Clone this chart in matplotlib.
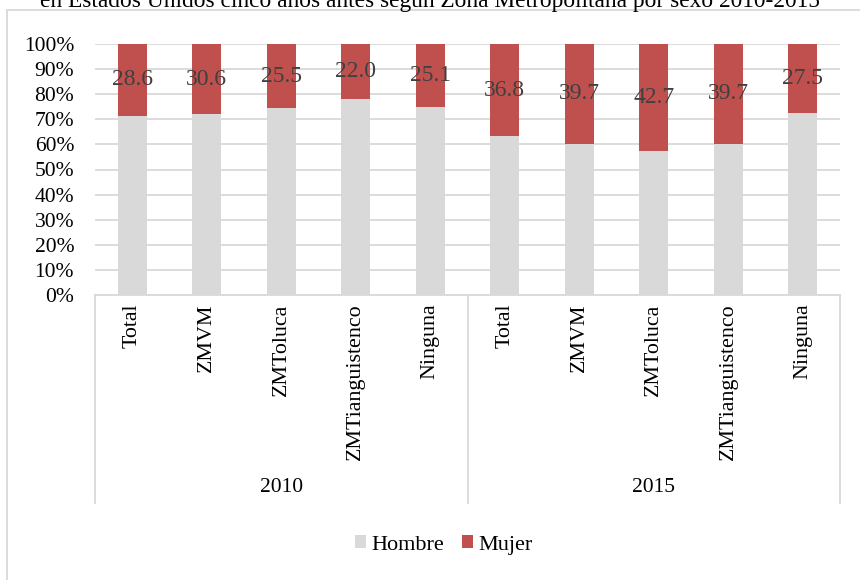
import matplotlib.pyplot as plt
import matplotlib.transforms as mtransforms
import numpy as np
from matplotlib.patches import Rectangle

plt.rcParams['font.family'] = ['Liberation Serif', 'DejaVu Serif']

# Población por sexo, porcentaje
years = ["2010", "2015"]
zonas = ["Total", "ZMVM", "ZMToluca", "ZMTianguistenco", "Ninguna"]
# alturas de las barras (Hombre)
hombre = [71.4, 72.1, 74.5, 78.0, 74.9, 63.2, 60.3, 57.3, 60.3, 72.5]
mujer = [100 - h for h in hombre]
# etiquetas de datos (Mujer)
etiquetas = [28.6, 30.6, 25.5, 22.0, 25.1, 36.8, 39.7, 42.7, 39.7, 27.5]
yticks = [0, 10, 20, 30, 40, 50, 60, 70, 80, 90, 100]

gris = '#d9d9d9'
rojo = '#c0504d'

W, H = 860, 580
fig = plt.figure(figsize=(W / 100, H / 100), dpi=100)
ax = fig.add_axes([95 / W, 1 - 295 / H, (840 - 95) / W, (295 - 44) / H])

x = np.arange(len(hombre))
ax.bar(x, hombre, width=0.39, color=gris, label='Hombre', zorder=3)
ax.bar(x, mujer, width=0.39, bottom=hombre, color=rojo, label='Mujer', zorder=3)

for xi, h, m, lab in zip(x, hombre, mujer, etiquetas):
    ax.text(xi, h + m / 2, f"{lab:.1f}", ha='center', va='center',
            fontsize=17, color='#404040', zorder=4)

ax.set_xlim(-0.5, len(hombre) - 0.5)
ax.set_ylim(0, 100)
ax.set_yticks(yticks)
ax.set_yticklabels([f"{t}%" for t in yticks], fontsize=15.5)
ax.yaxis.grid(True, color=gris, linewidth=1.3, zorder=0)
ax.tick_params(axis='y', length=0, pad=15)
ax.tick_params(axis='x', length=0, pad=6)
for s in ax.spines.values():
    s.set_visible(False)

ax.set_xticks(x)
ax.set_xticklabels(zonas * len(years), rotation=90, va='top', fontsize=15.8)

# caja de categorías de varios niveles
trans = mtransforms.blended_transform_factory(ax.transData, ax.transAxes)
box_bottom = -(503 - 295) / (295 - 44)
ax.plot([-0.5, 9.5], [0, 0], color=gris, lw=1.3, transform=trans, clip_on=False)
for bx in [-0.5, 4.5, 9.5]:
    ax.plot([bx, bx], [0, box_bottom], color=gris, lw=1.3,
            transform=trans, clip_on=False)
for i, yr in enumerate(years):
    ax.text(i * 5 + 2, -(488 - 295) / (295 - 44), yr, ha='center', va='center',
            fontsize=15.5, transform=trans)

# borde del área del gráfico
fig.patches.append(Rectangle((7 / W, -0.1), 1.2, 1 - 10 / H + 0.1,
                             transform=fig.transFigure, fill=False,
                             edgecolor=gris, lw=1.3))

fig.text(0.5, 1 - 7 / H, "en Estados Unidos cinco años antes según Zona Metropolitana por sexo 2010-2015",
         ha='center', va='baseline', fontsize=16.8)

fig.legend(loc='center', bbox_to_anchor=(444 / W, 1 - 545 / H), ncol=2, frameon=False,
           fontsize=16, handlelength=0.5, handleheight=0.5, handletextpad=0.25,
           columnspacing=0.8, borderpad=0.2)

fig.savefig('out.png', dpi=100)
